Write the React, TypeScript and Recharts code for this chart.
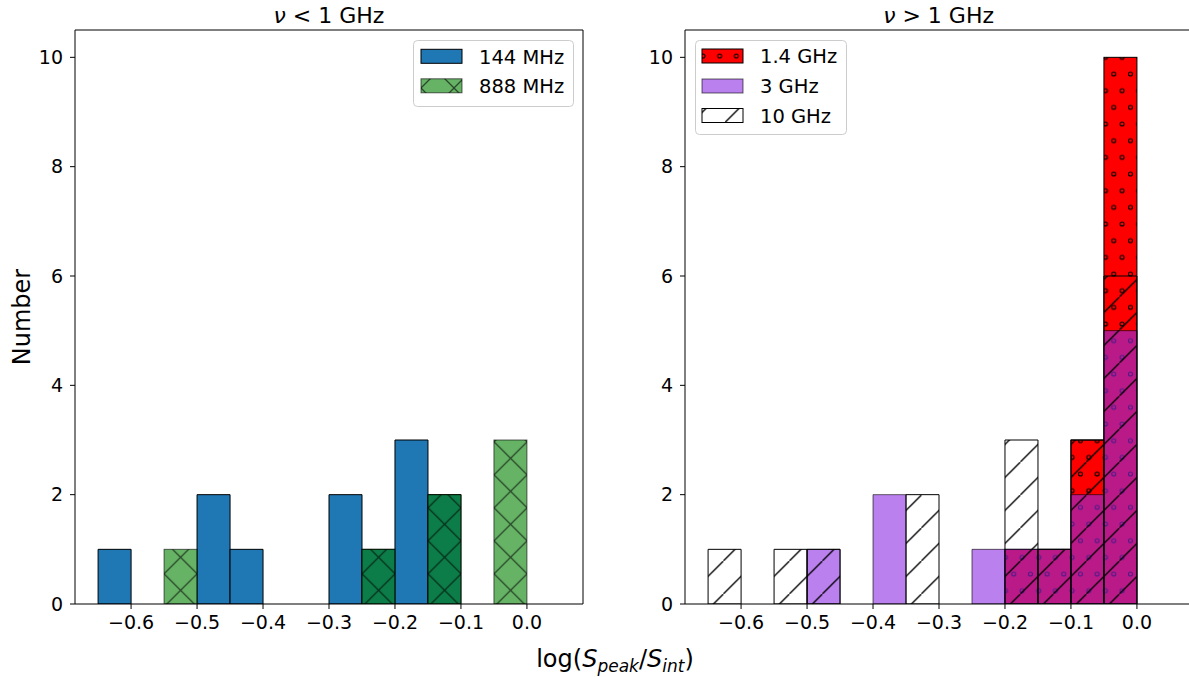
import React from 'react';
import { ComposedChart, Bar, XAxis, YAxis, Legend } from 'recharts';

// ---- data ----
const BIN_CENTERS = [-0.625, -0.575, -0.525, -0.475, -0.425, -0.375, -0.325, -0.275, -0.225, -0.175, -0.125, -0.075, -0.025, 0.025];
const LOW_144 = [1, 0, 0, 2, 1, 0, 0, 2, 1, 3, 2, 0, 0, 0];
const LOW_888 = [0, 0, 1, 0, 0, 0, 0, 0, 1, 0, 2, 0, 3, 0];
const HIGH_1P4 = [0, 0, 0, 0, 0, 0, 0, 0, 0, 1, 1, 3, 10, 0];
const HIGH_3 = [0, 0, 0, 1, 0, 2, 0, 0, 1, 1, 1, 2, 5, 0];
const HIGH_10 = [1, 0, 1, 1, 0, 0, 2, 0, 0, 3, 1, 3, 6, 0];
const X_TICKS = [-0.6, -0.5, -0.4, -0.3, -0.2, -0.1, 0.0];
const Y_TICKS = [0, 2, 4, 6, 8, 10];
const X_DOMAIN: [number, number] = [-0.685, 0.085];
const Y_DOMAIN: [number, number] = [0, 10.5];
const LOW_LEGEND = ['144 MHz', '888 MHz'];
const HIGH_LEGEND = ['1.4 GHz', '3 GHz', '10 GHz'];

const lowData = BIN_CENTERS.map((c, i) => ({ x: c, m144: LOW_144[i], m888: LOW_888[i] }));
const highData = BIN_CENTERS.map((c, i) => ({ x: c, g14: HIGH_1P4[i], g3: HIGH_3[i], g10: HIGH_10[i] }));

const FONT = 'DejaVu Sans';
const CHART_W = 600;
const CHART_H = 677;
const MARGIN = { top: 29, right: 16, bottom: 33, left: 15 };
const HW = 1.3;

const fmt = (v: number) => (v < -1e-9 ? '\u2212' + Math.abs(v).toFixed(1) : Math.abs(v).toFixed(1));

const Patterns = ({ prefix }: { prefix: string }) => (
  <defs>
    <pattern id={prefix + 'X'} patternUnits="userSpaceOnUse" width={33} height={33} x={98.1} y={507.8}>
      <path d="M-2,-2 L35,35 M-2,35 L35,-2" stroke="#000" strokeOpacity={0.6} strokeWidth={HW} />
    </pattern>
    <pattern id={prefix + 'S'} patternUnits="userSpaceOnUse" width={33} height={33} x={14.4} y={0}>
      <path d="M-2,35 L35,-2" stroke="#000" strokeWidth={HW} />
    </pattern>
    <pattern id={prefix + 'O'} patternUnits="userSpaceOnUse" width={16.667} height={33.333} x={12.1} y={24}>
      <circle cx={0} cy={0} r={2} fill="none" stroke="#000" strokeWidth={1.1} />
      <circle cx={16.667} cy={0} r={2} fill="none" stroke="#000" strokeWidth={1.1} />
      <circle cx={0} cy={33.333} r={2} fill="none" stroke="#000" strokeWidth={1.1} />
      <circle cx={16.667} cy={33.333} r={2} fill="none" stroke="#000" strokeWidth={1.1} />
      <circle cx={8.333} cy={16.667} r={2} fill="none" stroke="#000" strokeWidth={1.1} />
    </pattern>
  </defs>
);

const GreenShape = (props: any) => {
  const { x, y, width, height } = props;
  if (!height || height <= 0) return null;
  return (
    <g>
      <rect x={x} y={y} width={width} height={height} fill="green" fillOpacity={0.6} />
      <rect x={x} y={y} width={width} height={height} fill="url(#cX)" />
      <rect x={x} y={y} width={width} height={height} fill="none" stroke="#000" strokeOpacity={0.6} />
    </g>
  );
};

const RedShape = (props: any) => {
  const { x, y, width, height } = props;
  if (!height || height <= 0) return null;
  return (
    <g>
      <rect x={x} y={y} width={width} height={height} fill="red" />
      <rect x={x} y={y} width={width} height={height} fill="url(#cO)" />
      <rect x={x} y={y} width={width} height={height} fill="none" stroke="#000" />
    </g>
  );
};

const legendText = { fontFamily: FONT, fontSize: 19.5, fill: '#000' } as const;

const LowLegend = () => (
  <svg width={161} height={67} style={{ display: 'block' }}>
    <defs>
      <pattern id="lgX" patternUnits="userSpaceOnUse" width={33} height={33} x={8} y={-18}>
        <path d="M-2,-2 L35,35 M-2,35 L35,-2" stroke="#000" strokeOpacity={0.6} strokeWidth={HW} />
      </pattern>
    </defs>
    <rect x={0.5} y={0.5} width={160} height={66} rx={4} fill="#fff" fillOpacity={0.8} stroke="#ccc" />
    <rect x={8} y={9.3} width={41} height={14} fill="#1f77b4" stroke="#000" />
    <text x={66} y={23.5} {...legendText}>{LOW_LEGEND[0]}</text>
    <rect x={8} y={38.8} width={41} height={14} fill="green" fillOpacity={0.6} />
    <rect x={8} y={38.8} width={41} height={14} fill="url(#lgX)" />
    <rect x={8} y={38.8} width={41} height={14} fill="none" stroke="#000" strokeOpacity={0.6} />
    <text x={66} y={53} {...legendText}>{LOW_LEGEND[1]}</text>
  </svg>
);

const HighLegend = () => (
  <svg width={152} height={95} style={{ display: 'block' }}>
    <defs>
      <pattern id="lgO" patternUnits="userSpaceOnUse" width={16.667} height={33.333} x={8} y={16}>
        <circle cx={0} cy={0} r={2} fill="none" stroke="#000" />
        <circle cx={16.667} cy={0} r={2} fill="none" stroke="#000" />
        <circle cx={0} cy={33.333} r={2} fill="none" stroke="#000" />
        <circle cx={16.667} cy={33.333} r={2} fill="none" stroke="#000" />
        <circle cx={8.333} cy={16.667} r={2} fill="none" stroke="#000" />
      </pattern>
      <pattern id="lgS" patternUnits="userSpaceOnUse" width={33} height={33} x={-3} y={82.5}>
        <path d="M-2,35 L35,-2" stroke="#000" strokeWidth={HW} />
      </pattern>
    </defs>
    <rect x={0.5} y={0.5} width={151} height={94} rx={4} fill="#fff" fillOpacity={0.8} stroke="#ccc" />
    <rect x={7} y={9} width={41} height={14} fill="red" />
    <rect x={7} y={9} width={41} height={14} fill="url(#lgO)" />
    <rect x={7} y={9} width={41} height={14} fill="none" stroke="#000" />
    <text x={65} y={23} {...legendText}>{HIGH_LEGEND[0]}</text>
    <rect x={7} y={39} width={41} height={14} fill="blueviolet" fillOpacity={0.6} stroke="#000" strokeOpacity={0.6} />
    <text x={65} y={53} {...legendText}>{HIGH_LEGEND[1]}</text>
    <rect x={7} y={68.5} width={41} height={14} fill="url(#lgS)" stroke="#000" />
    <text x={65} y={82.5} {...legendText}>{HIGH_LEGEND[2]}</text>
  </svg>
);

const tickStyle = { fill: '#000', fontSize: 19, fontFamily: FONT };

const frameAxes = () => [
  <XAxis key="xb" xAxisId="a" type="number" dataKey="x" domain={X_DOMAIN} allowDataOverflow ticks={X_TICKS}
    tickFormatter={fmt} height={40} tick={tickStyle} tickSize={5} tickMargin={7}
    axisLine={{ stroke: '#000' }} tickLine={{ stroke: '#000' }} interval={0} />,
  <XAxis key="xb2" xAxisId="b" type="number" dataKey="x" domain={X_DOMAIN} allowDataOverflow hide />,
  <XAxis key="xb3" xAxisId="c" type="number" dataKey="x" domain={X_DOMAIN} allowDataOverflow hide />,
  <XAxis key="xt" xAxisId="top" orientation="top" type="number" dataKey="x" domain={X_DOMAIN} allowDataOverflow
    height={1} ticks={X_TICKS} tick={false} tickLine={false} axisLine={{ stroke: '#000' }} />,
  <YAxis key="yl" yAxisId="l" type="number" domain={Y_DOMAIN} allowDataOverflow ticks={Y_TICKS} width={60}
    tick={tickStyle} tickSize={5} tickMargin={7} axisLine={{ stroke: '#000' }} tickLine={{ stroke: '#000' }} interval={0} />,
  <YAxis key="yr" yAxisId="r" orientation="right" type="number" domain={Y_DOMAIN} allowDataOverflow width={1}
    ticks={Y_TICKS} tick={false} tickLine={false} axisLine={{ stroke: '#000' }} />,
];

const LowChart = () => (
  <ComposedChart width={CHART_W} height={CHART_H} data={lowData} margin={MARGIN} barCategoryGap={0} barGap={0}>
    <Patterns prefix="c" />
    {frameAxes()}
    <Bar xAxisId="a" yAxisId="l" dataKey="m144" fill="#1f77b4" stroke="#000" isAnimationActive={false} />
    <Bar xAxisId="b" yAxisId="l" dataKey="m888" shape={GreenShape} isAnimationActive={false} />
    <Legend content={() => <LowLegend />} layout="vertical" align="center" verticalAlign="middle"
      wrapperStyle={{ left: 413, top: 40, width: 161, height: 67, margin: 0 }} />
  </ComposedChart>
);

const HighChart = () => (
  <ComposedChart width={CHART_W} height={CHART_H} data={highData} margin={MARGIN} barCategoryGap={0} barGap={0}>
    <Patterns prefix="c" />
    {frameAxes()}
    <Bar xAxisId="a" yAxisId="l" dataKey="g14" shape={RedShape} isAnimationActive={false} />
    <Bar xAxisId="b" yAxisId="l" dataKey="g3" fill="blueviolet" fillOpacity={0.6} stroke="#000" strokeOpacity={0.6} isAnimationActive={false} />
    <Bar xAxisId="c" yAxisId="l" dataKey="g10" fill="url(#cS)" stroke="#000" isAnimationActive={false} />
    <Legend content={() => <HighLegend />} layout="vertical" align="center" verticalAlign="middle"
      wrapperStyle={{ left: 85.4, top: 40, width: 152, height: 95, margin: 0 }} />
  </ComposedChart>
);

export default function App() {
  return (
    <div style={{ position: 'absolute', left: 0, top: 0, width: 1189, height: 677, overflow: 'hidden', background: '#fff', fontFamily: FONT }}>
      <div style={{ position: 'absolute', left: 0, top: 0 }}>
        <LowChart />
      </div>
      <div style={{ position: 'absolute', left: 609.6, top: 0 }}>
        <HighChart />
      </div>
      <svg width={1189} height={677} style={{ position: 'absolute', left: 0, top: 0, pointerEvents: 'none' }}>
        <text x={329} y={23} textAnchor="middle" fontFamily={FONT} fontSize={22} fill="#000">
          <tspan fontStyle="italic">ν</tspan> &lt; 1 GHz
        </text>
        <text x={938.6} y={23} textAnchor="middle" fontFamily={FONT} fontSize={22} fill="#000">
          <tspan fontStyle="italic">ν</tspan> &gt; 1 GHz
        </text>
        <text x={615} y={667} textAnchor="middle" fontFamily={FONT} fontSize={24} fill="#000">
          log(<tspan fontStyle="italic">S</tspan>
          <tspan fontStyle="italic" fontSize={17} dy={5}>peak</tspan>
          <tspan dy={-5}>/</tspan>
          <tspan fontStyle="italic">S</tspan>
          <tspan fontStyle="italic" fontSize={17} dy={5}>int</tspan>
          <tspan dy={-5}>)</tspan>
        </text>
        <text x={30} y={317} textAnchor="middle" fontFamily={FONT} fontSize={24} fill="#000" transform="rotate(-90 30 317)">
          Number
        </text>
      </svg>
    </div>
  );
}
